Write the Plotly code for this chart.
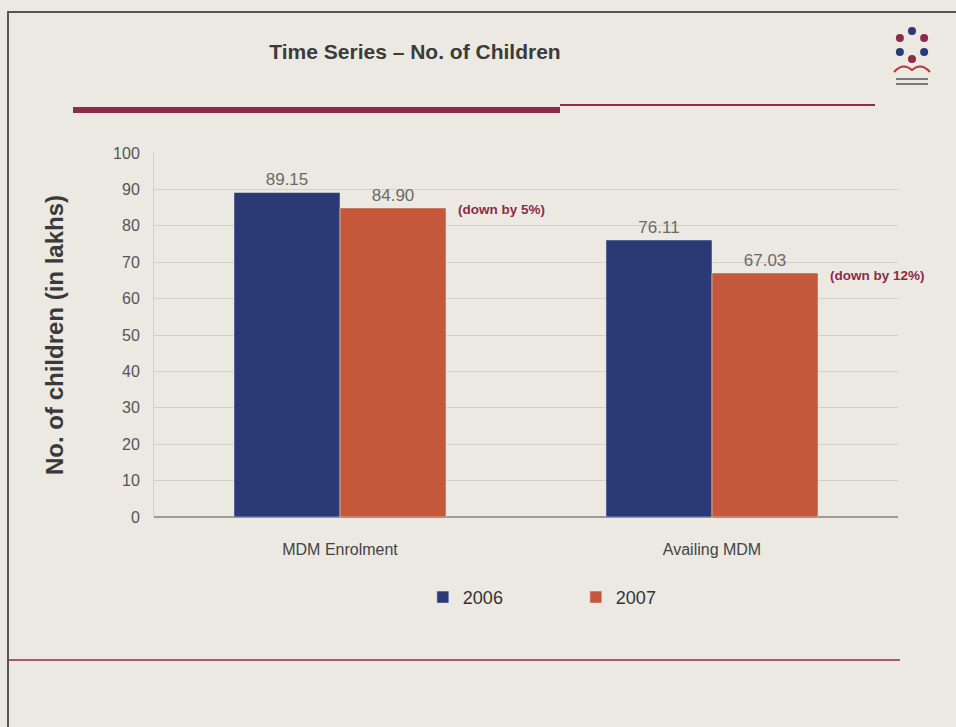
import math
import plotly.graph_objects as go

categories = ["MDM Enrolment", "Availing MDM"]
years = ["2006", "2007"]
values_2006 = [89.15, 76.11]
values_2007 = [84.90, 67.03]
change_notes = ["(down by 5%)", "(down by 12%)"]
y_ticks = [0, 10, 20, 30, 40, 50, 60, 70, 80, 90, 100]

NAVY = "#2b3975"
ORANGE = "#c4583a"
MAROON = "#8e2b4a"
BG = "#ebe9e2"
FONT = "Liberation Sans Narrow, Liberation Sans, Arial"

# plot area in pixels (used to place the slide decorations)
L, R, T, B = 154, 58, 153, 210
W, H = 956 - L - R, 727 - T - B


def px(x):
    return (x - L) / W


def py(y):
    return (727 - B - y) / H


fig = go.Figure()
for name, vals, col in [(years[0], values_2006, NAVY), (years[1], values_2007, ORANGE)]:
    fig.add_trace(go.Bar(
        name=name, x=categories, y=vals, marker_color=col,
        text=[f"{v:.2f}" for v in vals], textposition="outside",
        textfont=dict(family=FONT, size=17, color="#6a6a6a"),
        cliponaxis=False,
    ))

# notes beside the 2007 bars
for cat, v, note in zip(categories, values_2007, change_notes):
    fig.add_annotation(
        x=cat, y=v, xref="x", yref="y", text=f"<b>{note}</b>",
        showarrow=False, xanchor="left", yanchor="middle",
        xshift=116, yshift=-2,
        font=dict(family="Liberation Sans, Arial", size=13.5, color=MAROON),
    )

fig.update_layout(
    width=956, height=727,
    paper_bgcolor=BG, plot_bgcolor=BG,
    margin=dict(l=L, r=R, t=T, b=B),
    barmode="group", bargap=0.43, bargroupgap=0,
    font=dict(family=FONT, color="#444444"),
    showlegend=True,
    legend=dict(orientation="h", x=0.567, xanchor="center", y=-0.17, yanchor="top",
                font=dict(family=FONT, size=18, color="#333333"),
                itemwidth=30, bgcolor="rgba(0,0,0,0)", traceorder="normal",
                entrywidth=108),
    xaxis=dict(range=[-0.5, 1.5], showline=False, ticks="",
               tickfont=dict(family=FONT, size=16, color="#444444"),
               ticklabelstandoff=21),
    yaxis=dict(range=[0, 100], tickvals=y_ticks, showgrid=True, gridcolor="#d2d0ca",
               gridwidth=1, zeroline=True, zerolinecolor="#9a9a9a",
               showline=True, linecolor="#d2d0ca",
               tickfont=dict(family=FONT, size=16, color="#555555"),
               ticklabelstandoff=10,
               title=dict(text="<b>No. of children (in lakhs)</b>", standoff=42,
                          font=dict(family="Liberation Sans, Arial", size=24, color="#3a3a3a"))),
    title=dict(text="<b>Time Series – No. of Children</b>", x=415 / 956,
               xanchor="center", y=1 - 52 / 727, yanchor="middle",
               font=dict(family=FONT, size=21, color="#3b3b3b")),
)

# slide frame
fig.add_shape(type="rect", xref="paper", yref="paper",
              x0=px(8), x1=px(975), y0=py(760), y1=py(12),
              line=dict(color="#555555", width=2), fillcolor="rgba(0,0,0,0)", layer="below")
# maroon rules under the title and near the bottom
fig.add_shape(type="line", xref="paper", yref="paper",
              x0=px(73), x1=px(560), y0=py(110), y1=py(110),
              line=dict(color=MAROON, width=6))
fig.add_shape(type="line", xref="paper", yref="paper",
              x0=px(560), x1=px(875), y0=py(105), y1=py(105),
              line=dict(color=MAROON, width=2))
fig.add_shape(type="line", xref="paper", yref="paper",
              x0=px(8), x1=px(900), y0=py(660), y1=py(660),
              line=dict(color=MAROON, width=1.5))

# small emblem in the top-right corner
cx, cy, rad = 912, 45, 14
for k in range(6):
    a = math.pi / 2 + k * math.pi / 3
    ex, ey = cx + rad * math.cos(a), cy - rad * math.sin(a)
    fig.add_shape(type="circle", xref="paper", yref="paper",
                  x0=px(ex - 4), x1=px(ex + 4), y0=py(ey + 4), y1=py(ey - 4),
                  fillcolor=NAVY if k % 2 == 0 else MAROON, line=dict(width=0))
fig.add_shape(type="path", xref="paper", yref="paper",
              path=(f"M {px(894)},{py(72)} Q {px(903)},{py(62)} {px(912)},{py(70)} "
                    f"Q {px(921)},{py(62)} {px(930)},{py(72)}"),
              line=dict(color="#b23a3a", width=2))
fig.add_shape(type="line", xref="paper", yref="paper",
              x0=px(896), x1=px(928), y0=py(79), y1=py(79),
              line=dict(color="#555555", width=1.5))
fig.add_shape(type="line", xref="paper", yref="paper",
              x0=px(896), x1=px(928), y0=py(84), y1=py(84),
              line=dict(color="#555555", width=1.5))

fig.write_html("out.html")
